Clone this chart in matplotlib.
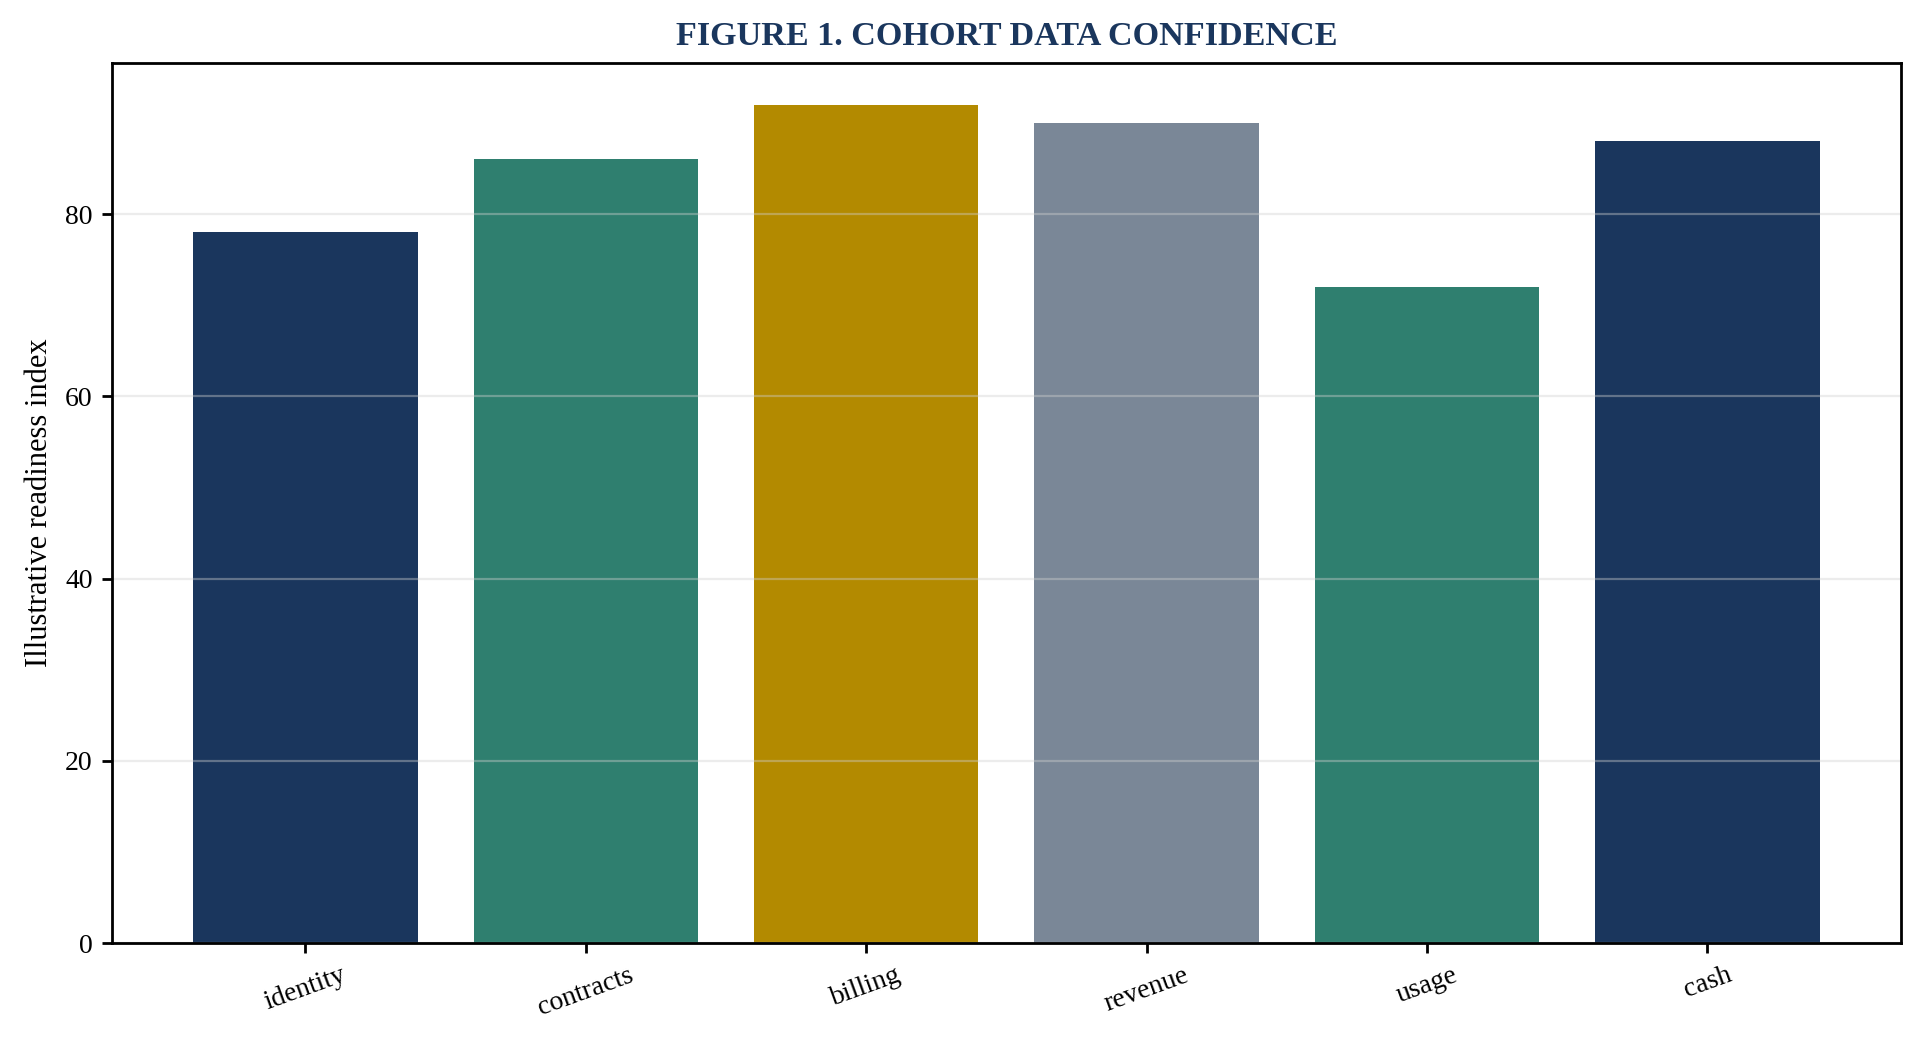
import matplotlib
matplotlib.use("Agg")
import matplotlib.pyplot as plt
from matplotlib import font_manager

# Werte aus der Abbildung
categories = ["identity", "contracts", "billing", "revenue", "usage", "cash"]
scores = [78, 86, 92, 90, 72, 88]
bar_colors = ["#1a365d", "#2f7f6f", "#b38a00", "#7a8797", "#2f7f6f", "#1a365d"]

# Times-aehnliche Schrift suchen
names = sorted({f.name for f in font_manager.fontManager.ttflist})
serif = [n for n in names if "Liberation Serif" in n or "Times" in n or "Nimbus Roman" in n]

plt.rcParams["font.family"] = serif + ["DejaVu Serif"]
plt.rcParams["font.size"] = 10

fig = plt.figure(figsize=(1924 / 200, 1048 / 200), dpi=200)
ax = fig.add_axes([0.0582, 0.100, 0.9298, 0.840])

ax.bar(categories, scores, color=bar_colors, width=0.8)

ax.grid(axis="y", color="#d0d0d0", alpha=0.4, linewidth=0.8)
ax.set_yticks([0, 20, 40, 60, 80])
ax.set_ylabel("Illustrative readiness index", fontsize=11)
ax.set_title("FIGURE 1. COHORT DATA CONFIDENCE", fontsize=12.3, fontweight="bold",
             color="#1a365d", pad=6.5)
plt.setp(ax.get_xticklabels(), rotation=20)

for s in ax.spines.values():
    s.set_linewidth(1.0)
ax.tick_params(width=1.0)

fig.savefig("out.png", dpi=200)
